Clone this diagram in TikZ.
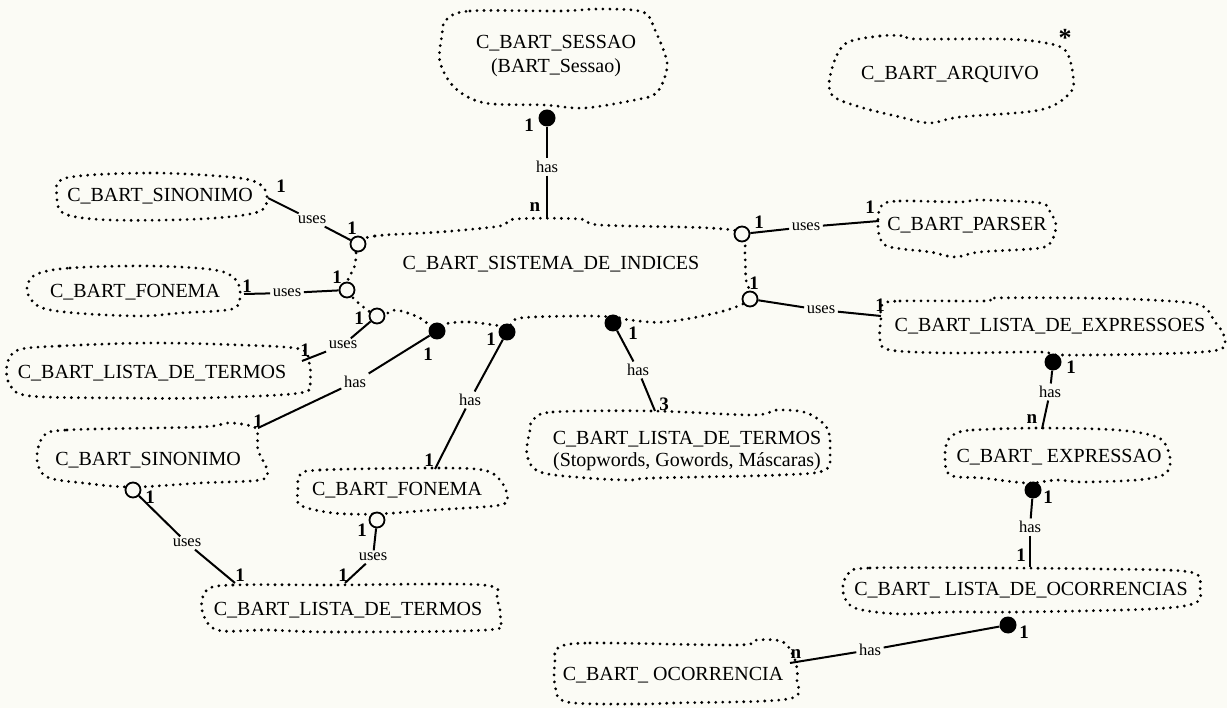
\documentclass[tikz,border=0pt]{standalone}
\usepackage{fontspec}
\setmainfont{Liberation Serif}
\definecolor{paper}{RGB}{251,251,245}
\begin{document}
\begin{tikzpicture}[x=1pt,y=-1pt,
  cls/.style={font=\fontsize{20}{24}\selectfont, align=center, inner sep=0pt},
  rel/.style={font=\fontsize{16.5}{18}\selectfont, inner sep=2.5pt},
  mult/.style={font=\bfseries\fontsize{19}{20}\selectfont, inner sep=0pt},
  fdot/.style={circle, fill=black, minimum size=17pt, inner sep=0pt},
  odot/.style={circle, draw=black, line width=1.8pt, fill=paper, minimum size=15pt, inner sep=0pt},
  outline/.style={line width=3.1pt, line cap=round, dash pattern=on 0pt off 7pt},
  link/.style={line width=2pt}]

\fill[paper] (0,0) rectangle (1227,708);
\useasboundingbox (0,0) rectangle (1227,708);

% ---------- class clouds ----------
\draw[outline] plot[smooth cycle, tension=0.55] coordinates {(446,20) (470,11) (560,11) (600,9) (643,12) (655,30) (667,62) (663,82) (655,94) (640,99) (585,108) (545,105) (485,103) (455,88) (440,62) (442,35)};
\node[cls] (sessao) at (556,56) {C\_BART\_SESSAO\\(BART\_Sessao)};

\draw[outline] plot[smooth cycle, tension=0.55] coordinates {(845,44) (880,36) (905,36) (915,39) (1000,39) (1040,42) (1065,50) (1073,75) (1070,93) (1040,110) (960,117) (930,123) (900,117) (860,107) (832,95) (831,72)};
\node[cls] (arquivo) at (950,75) {C\_BART\_ARQUIVO};
\node[mult, font=\bfseries\fontsize{26}{26}\selectfont] (star) at (1065,38) {*};

\draw[outline] plot[smooth cycle, tension=0.55] coordinates {(66,178) (150,173) (230,177) (258,183) (267,196) (258,212) (200,219) (110,220) (65,214) (57,197)};
\node[cls] (sinA) at (160,196) {C\_BART\_SINONIMO};

\draw[outline] plot[smooth cycle, tension=0.55] coordinates {(35,275) (70,268) (150,266) (215,270) (236,280) (240,296) (232,309) (180,313) (140,316) (75,313) (40,307) (27,291)};
\node[cls] (fonA) at (135,292) {C\_BART\_FONEMA};

\draw[outline] plot[smooth cycle, tension=0.55] coordinates {(18,350) (60,346) (150,343) (240,345) (300,349) (309,362) (310,380) (300,393) (200,398) (120,398) (30,396) (10,385) (7,365)};
\node[cls] (lisA) at (152,373) {C\_BART\_LISTA\_DE\_TERMOS};

\draw[outline] plot[smooth cycle, tension=0.55] coordinates {(358,244) (375,236) (440,232) (500,226) (515,219) (580,219) (600,225) (710,228) (742,234) (745,255) (746,280) (750,299) (720,312) (665,322) (630,320) (613,317) (580,316) (520,318) (507,326) (470,322) (445,324) (437,331) (420,318) (395,310) (377,316) (347,290) (355,265)};
\node[cls] (sistema) at (551,264) {C\_BART\_SISTEMA\_DE\_INDICES};

\draw[outline] plot[smooth cycle, tension=0.55] coordinates {(882,205) (900,201) (960,202) (980,200) (1040,203) (1050,212) (1056,225) (1052,240) (1040,248) (980,252) (955,257) (930,252) (890,247) (880,238) (878,220)};
\node[cls] (parser) at (967,225) {C\_BART\_PARSER};

\draw[outline] plot[smooth cycle, tension=0.55] coordinates {(882,305) (900,301) (985,301) (995,298) (1080,298) (1150,300) (1200,305) (1215,322) (1224,336) (1218,350) (1150,354) (1060,355) (1040,352) (950,353) (890,350) (880,340) (881,318)};
\node[cls] (lisExpr) at (1050,326) {C\_BART\_LISTA\_DE\_EXPRESSOES};

\draw[outline] plot[smooth cycle, tension=0.55] coordinates {(957,433) (973,430) (1040,428) (1117,430) (1157,437) (1168,450) (1170,465) (1163,475) (1137,480) (1083,482) (1057,480) (1027,483) (983,478) (950,475) (945,455) (948,440)};
\node[cls] (expr) at (1059,457) {C\_BART\_ EXPRESSAO};

\draw[outline] plot[smooth cycle, tension=0.55] coordinates {(848,574) (870,568) (1000,568) (1100,569) (1190,572) (1200,588) (1195,603) (1150,609) (1020,612) (950,612) (900,614) (855,608) (843,592)};
\node[cls] (lisOcor) at (1021,590) {C\_BART\_ LISTA\_DE\_OCORRENCIAS};

\draw[outline] plot[smooth cycle, tension=0.55] coordinates {(558,648) (590,643) (737,645) (757,640) (783,642) (795,660) (797,680) (788,699) (673,703) (640,704) (567,702) (555,685) (555,660)};
\node[cls] (ocor) at (673,675) {C\_BART\_ OCORRENCIA};

\draw[outline] plot[smooth cycle, tension=0.55] coordinates {(533,420) (553,412) (653,411) (753,415) (777,410) (807,413) (827,428) (830,450) (825,470) (780,475) (653,478) (630,480) (587,478) (540,472) (527,455) (530,430)};
\node[cls, font=\fontsize{20}{22}\selectfont] (stopw) at (687,451) {C\_BART\_LISTA\_DE\_TERMOS\\(Stopwords, Gowords, Máscaras)};

\draw[outline] plot[smooth cycle, tension=0.55] coordinates {(43,437) (67,430) (200,427) (227,423) (247,425) (257,430) (258,450) (267,470) (260,480) (200,483) (133,487) (83,483) (47,477) (37,460)};
\node[cls] (sinB) at (148,460) {C\_BART\_SINONIMO};

\draw[outline] plot[smooth cycle, tension=0.55] coordinates {(300,475) (320,470) (433,468) (483,470) (500,480) (507,495) (500,505) (433,510) (377,514) (333,513) (300,505) (298,490)};
\node[cls] (fonB) at (397,490) {C\_BART\_FONEMA};

\draw[outline] plot[smooth cycle, tension=0.55] coordinates {(207,590) (233,585) (333,585) (483,585) (497,600) (500,620) (487,630) (333,632) (267,630) (217,630) (202,610)};
\node[cls] (lisB) at (348,610) {C\_BART\_LISTA\_DE\_TERMOS};

% ---------- relationships ----------
% sessao has sistema
\node[fdot] (fA) at (547,118) {};
\node[mult] (mA1) at (529,125) {1};
\node[rel] (hA) at (547,167) {has};
\coordinate (eA) at (547,219);
\node[mult] (mA2) at (535,207) {n};
\draw[link] (fA) -- (hA);
\draw[link] (hA) -- (eA);

% sistema uses sinonimo
\coordinate (eB) at (268,198);
\node[mult] (mB1) at (281,186) {1};
\node[rel] (uB) at (312,220) {uses};
\node[odot] (oB) at (358,244) {};
\node[mult] (mB2) at (352,228) {1};
\draw[link] (eB) -- (uB);
\draw[link] (uB) -- (oB);

% sistema uses fonema
\coordinate (eC) at (244,294);
\node[mult] (mC1) at (247,286) {1};
\node[rel] (uC) at (287,293) {uses};
\node[odot] (oC) at (347,290) {};
\node[mult] (mC2) at (337,277) {1};
\draw[link] (eC) -- (uC);
\draw[link] (uC) -- (oC);

% sistema uses lista de termos
\node[odot] (oD) at (377,316) {};
\node[mult] (mD1) at (359,318) {1};
\node[rel] (uD) at (343,345) {uses};
\coordinate (eD) at (302,361);
\node[mult] (mD2) at (305,350) {1};
\draw[link] (oD) -- (uD);
\draw[link] (uD) -- (eD);

% sistema has sinonimo
\node[fdot] (fE) at (437,331) {};
\node[mult] (mE1) at (428,354) {1};
\node[rel] (hE) at (355,382) {has};
\coordinate (eE) at (258,428);
\node[mult] (mE2) at (258,421) {1};
\draw[link] (fE) -- (hE);
\draw[link] (hE) -- (eE);

% sistema has fonema
\node[fdot] (fF) at (507,332) {};
\node[mult] (mF1) at (491,339) {1};
\node[rel] (hF) at (470,400) {has};
\coordinate (eF) at (435,469);
\node[mult] (mF2) at (429,460) {1};
\draw[link] (fF) -- (hF);
\draw[link] (hF) -- (eF);

% sistema has lista de termos (stopwords)
\node[fdot] (fG) at (613,323) {};
\node[mult] (mG1) at (633,333) {1};
\node[rel] (hG) at (638,370) {has};
\coordinate (eG) at (655,411);
\node[mult] (mG2) at (664,404) {3};
\draw[link] (fG) -- (hG);
\draw[link] (hG) -- (eG);

% sistema uses parser
\node[odot] (oH) at (742,234) {};
\node[mult] (mH1) at (759,222) {1};
\node[rel] (uH) at (806,227) {uses};
\coordinate (eH) at (879,221);
\node[mult] (mH2) at (870,207) {1};
\draw[link] (oH) -- (uH);
\draw[link] (uH) -- (eH);

% sistema uses lista de expressoes
\node[odot] (oI) at (750,299) {};
\node[mult] (mI1) at (754,283) {1};
\node[rel] (uI) at (821,310) {uses};
\coordinate (eI) at (881,316);
\node[mult] (mI2) at (880,305) {1};
\draw[link] (oI) -- (uI);
\draw[link] (uI) -- (eI);

% lista de expressoes has expressao
\node[fdot] (fJ) at (1053,362) {};
\node[mult] (mJ1) at (1071,367) {1};
\node[rel] (hJ) at (1050,392) {has};
\coordinate (eJ) at (1042,429);
\node[mult] (mJ2) at (1032,419) {n};
\draw[link] (fJ) -- (hJ);
\draw[link] (hJ) -- (eJ);

% expressao has lista de ocorrencias
\node[fdot] (fK) at (1033,490) {};
\node[mult] (mK1) at (1048,497) {1};
\node[rel] (hK) at (1030,527) {has};
\coordinate (eK) at (1030,567);
\node[mult] (mK2) at (1021,555) {1};
\draw[link] (fK) -- (hK);
\draw[link] (hK) -- (eK);

% lista de ocorrencias has ocorrencia
\node[fdot] (fL) at (1008,625) {};
\node[mult] (mL1) at (1024,632) {1};
\node[rel] (hL) at (870,650) {has};
\coordinate (eL) at (790,663);
\node[mult] (mL2) at (796,654) {n};
\draw[link] (fL) -- (hL);
\draw[link] (hL) -- (eL);

% sinonimo uses lista de termos
\node[odot] (oM) at (133,490) {};
\node[mult] (mM1) at (150,497) {1};
\node[rel] (uM) at (187,543) {uses};
\coordinate (eM) at (235,583);
\node[mult] (mM2) at (240,575) {1};
\draw[link] (oM) -- (uM);
\draw[link] (uM) -- (eM);

% fonema uses lista de termos
\node[odot] (oN) at (377,520) {};
\node[mult] (mN1) at (362,530) {1};
\node[rel] (uN) at (373,557) {uses};
\coordinate (eN) at (345,583);
\node[mult] (mN2) at (343,575) {1};
\draw[link] (oN) -- (uN);
\draw[link] (uN) -- (eN);
\end{tikzpicture}
\end{document}
